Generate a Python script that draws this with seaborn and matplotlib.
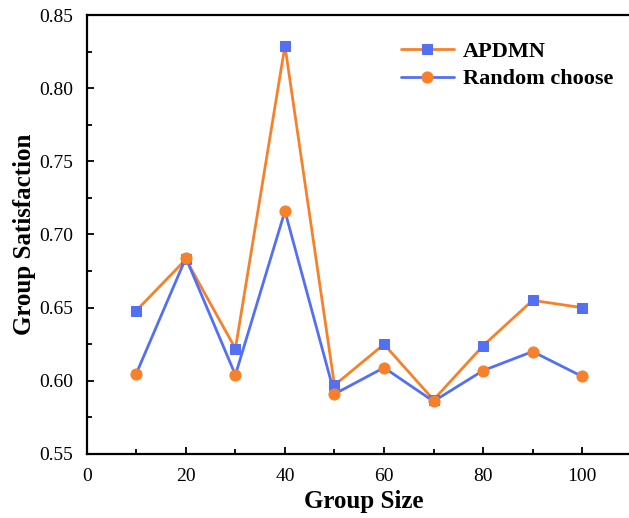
import matplotlib
matplotlib.use("Agg")
import matplotlib.pyplot as plt
import seaborn as sns
import pandas as pd
from matplotlib.ticker import MultipleLocator, FormatStrFormatter

group_size = [10, 20, 30, 40, 50, 60, 70, 80, 90, 100]
apdmn = [0.648, 0.683, 0.622, 0.829, 0.597, 0.625, 0.587, 0.624, 0.655, 0.650]
random_choose = [0.605, 0.684, 0.604, 0.716, 0.591, 0.609, 0.586, 0.607, 0.620, 0.603]

sns.set_theme(style="ticks")
plt.rcParams['font.family'] = ['Liberation Serif', 'DejaVu Serif']

ORANGE = "#F7812A"
BLUE = "#5470F2"

df_a = pd.DataFrame({"x": group_size, "y": apdmn})
df_r = pd.DataFrame({"x": group_size, "y": random_choose})

fig = plt.figure(figsize=(6.29, 5.18), dpi=100)
ax = fig.add_axes([0.138, 0.1236, 0.862 + 0.02, 0.8474])

sns.lineplot(data=df_a, x="x", y="y", ax=ax, color=ORANGE, linewidth=2.0,
             marker="s", markersize=7, markerfacecolor=BLUE, markeredgecolor=BLUE,
             label="APDMN")
sns.lineplot(data=df_r, x="x", y="y", ax=ax, color=BLUE, linewidth=2.0,
             marker="o", markersize=8, markerfacecolor=ORANGE, markeredgecolor=ORANGE,
             label="Random choose")

ax.set_xlim(0, 112)
ax.set_ylim(0.55, 0.85)
ax.xaxis.set_major_locator(MultipleLocator(20))
ax.xaxis.set_minor_locator(MultipleLocator(10))
ax.yaxis.set_major_locator(MultipleLocator(0.05))
ax.yaxis.set_minor_locator(MultipleLocator(0.025))
ax.yaxis.set_major_formatter(FormatStrFormatter("%.2f"))
ax.tick_params(which="both", direction="in", width=1.3, labelsize=14, colors="black")
ax.tick_params(axis="y", which="major", length=5, pad=10)
ax.tick_params(axis="x", which="major", length=5, pad=10)
ax.tick_params(which="minor", length=3.5)
for s in ax.spines.values():
    s.set_linewidth(1.6)
    s.set_color("black")

ax.set_xlabel("Group Size", fontsize=18, fontweight="bold", color="black", labelpad=4)
ax.set_ylabel("Group Satisfaction", fontsize=18, fontweight="bold", color="black", labelpad=2)

leg = ax.legend(loc="upper right", bbox_to_anchor=(0.985, 0.985), frameon=False,
                prop={"size": 16, "weight": "bold"}, handlelength=2.4,
                handletextpad=0.4, labelspacing=0.3)
for t in leg.get_texts():
    t.set_color("black")

fig.savefig("out.png", dpi=100)
